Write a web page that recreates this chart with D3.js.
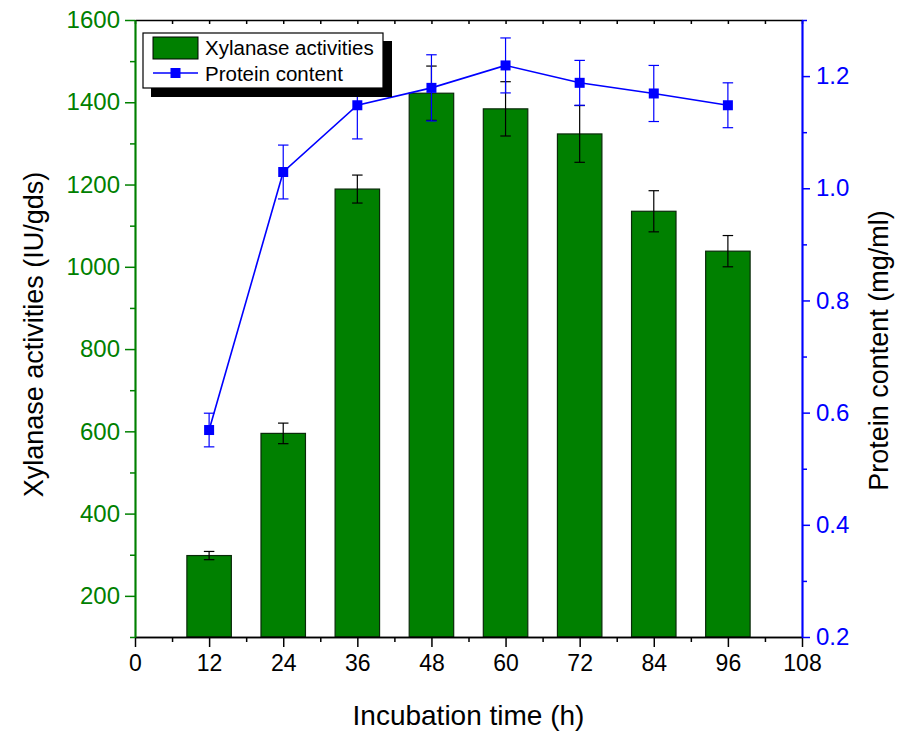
<!DOCTYPE html>
<html>
<head>
<meta charset="utf-8">
<script src="https://cdn.jsdelivr.net/npm/d3@7"></script>
<style>
  html, body { margin: 0; padding: 0; background: #fff; }
  svg { display: block; font-family: "Liberation Sans", Arial, sans-serif; }
</style>
</head>
<body>
<svg id="chart" width="900" height="731"></svg>
<script>
// Incubation time (h)
const hours = [12, 24, 36, 48, 60, 72, 84, 96];
// Xylanase activities (IU/gds) and their standard deviations
const xylanase = [298, 595, 1189, 1422, 1384, 1323, 1135, 1038];
const xylanaseErr = [10, 25, 34, 66, 66, 69, 50, 38];
// Protein content (mg/ml) and standard deviations
const protein = [0.569, 1.029, 1.148, 1.179, 1.219, 1.188, 1.169, 1.148];
const proteinErr = [0.03, 0.048, 0.06, 0.059, 0.049, 0.04, 0.05, 0.04];

const xTicks = [0, 12, 24, 36, 48, 60, 72, 84, 96, 108];
const xMinor = [6, 18, 30, 42, 54, 66, 78, 90, 102];
const leftTicks = [200, 400, 600, 800, 1000, 1200, 1400, 1600];
const leftMinor = [100, 300, 500, 700, 900, 1100, 1300, 1500];
const rightTicks = [0.2, 0.4, 0.6, 0.8, 1.0, 1.2];
const rightMinor = [0.3, 0.5, 0.7, 0.9, 1.1, 1.3];

const GREEN = "#008000", BLUE = "#0000ff";
const svg = d3.select("#chart");
const L = 135, R = 802, T = 20, B = 637;

const x = d3.scaleLinear().domain([0, 108]).range([L, R]);
const yL = d3.scaleLinear().domain([100, 1600]).range([B, T]);
const yR = d3.scaleLinear().domain([0.2, 1.3]).range([B, T]);
const barW = x(7.2) - x(0);

// bars
svg.append("g").selectAll("rect").data(hours).join("rect")
  .attr("x", (d) => x(d) - barW / 2)
  .attr("y", (d, i) => yL(xylanase[i]))
  .attr("width", barW)
  .attr("height", (d, i) => B - yL(xylanase[i]))
  .attr("fill", GREEN)
  .attr("stroke", "#0a2a0a")
  .attr("stroke-width", 1.2);

// error bars on the bars
const capW = 10.5;
const eb = svg.append("g").attr("stroke", "#000").attr("stroke-width", 1.2);
hours.forEach((h, i) => {
  const y1 = yL(xylanase[i] + xylanaseErr[i]), y2 = yL(xylanase[i] - xylanaseErr[i]);
  eb.append("line").attr("x1", x(h)).attr("x2", x(h)).attr("y1", y1).attr("y2", y2);
  eb.append("line").attr("x1", x(h) - capW / 2).attr("x2", x(h) + capW / 2).attr("y1", y1).attr("y2", y1);
  eb.append("line").attr("x1", x(h) - capW / 2).attr("x2", x(h) + capW / 2).attr("y1", y2).attr("y2", y2);
});

// protein line
svg.append("path")
  .datum(hours.map((h, i) => [h, protein[i]]))
  .attr("fill", "none").attr("stroke", BLUE).attr("stroke-width", 1.6)
  .attr("d", d3.line().x((d) => x(d[0])).y((d) => yR(d[1])));

const pe = svg.append("g").attr("stroke", BLUE).attr("stroke-width", 1.2);
hours.forEach((h, i) => {
  const y1 = yR(protein[i] + proteinErr[i]), y2 = yR(protein[i] - proteinErr[i]);
  pe.append("line").attr("x1", x(h)).attr("x2", x(h)).attr("y1", y1).attr("y2", y2);
  pe.append("line").attr("x1", x(h) - capW / 2).attr("x2", x(h) + capW / 2).attr("y1", y1).attr("y2", y1);
  pe.append("line").attr("x1", x(h) - capW / 2).attr("x2", x(h) + capW / 2).attr("y1", y2).attr("y2", y2);
});

const mk = 10;
svg.append("g").selectAll("rect").data(hours).join("rect")
  .attr("x", (d) => x(d) - mk / 2)
  .attr("y", (d, i) => yR(protein[i]) - mk / 2)
  .attr("width", mk).attr("height", mk)
  .attr("fill", BLUE);

// axes
function styleAxis(g, color, fs) {
  g.select(".domain").attr("stroke", color).attr("stroke-width", 1.7);
  g.selectAll(".tick line").attr("stroke", color).attr("stroke-width", 1.5);
  g.selectAll(".tick text").attr("fill", color).attr("font-size", fs)
    .attr("font-family", "Liberation Sans, Arial, sans-serif");
}

// top frame with small inward ticks
const gTop = svg.append("g").attr("transform", `translate(0,${T})`)
  .call(d3.axisTop(x).tickValues(xTicks.concat(xMinor)).tickSize(-4).tickSizeOuter(0).tickFormat(""));
styleAxis(gTop, "#000", 0);

// bottom axis
const gBm = svg.append("g").attr("transform", `translate(0,${B})`)
  .call(d3.axisBottom(x).tickValues(xMinor).tickSize(5).tickSizeOuter(0).tickFormat(""));
styleAxis(gBm, "#000", 0);
const gB = svg.append("g").attr("transform", `translate(0,${B})`)
  .call(d3.axisBottom(x).tickValues(xTicks).tickSize(10).tickSizeOuter(0).tickPadding(8).tickFormat(d3.format("d")));
styleAxis(gB, "#000", 23);

// left axis
const gLm = svg.append("g").attr("transform", `translate(${L},0)`)
  .call(d3.axisLeft(yL).tickValues(leftMinor).tickSize(5).tickSizeOuter(0).tickFormat(""));
styleAxis(gLm, GREEN, 0);
const gL = svg.append("g").attr("transform", `translate(${L},0)`)
  .call(d3.axisLeft(yL).tickValues(leftTicks).tickSize(10).tickSizeOuter(0).tickPadding(5).tickFormat(d3.format("d")));
styleAxis(gL, GREEN, 24);

// right axis
const gRm = svg.append("g").attr("transform", `translate(${R},0)`)
  .call(d3.axisRight(yR).tickValues(rightMinor).tickSize(5).tickSizeOuter(0).tickFormat(""));
styleAxis(gRm, BLUE, 0);
const gR = svg.append("g").attr("transform", `translate(${R},0)`)
  .call(d3.axisRight(yR).tickValues(rightTicks).tickSize(8).tickSizeOuter(0).tickPadding(6).tickFormat(d3.format(".1f")));
styleAxis(gR, BLUE, 24);

// axis titles
svg.append("text").attr("x", (L + R) / 2).attr("y", 725).attr("text-anchor", "middle")
  .attr("font-size", 28).attr("fill", "#000").text("Incubation time (h)");
svg.append("text").attr("transform", `translate(43,${(T + B) / 2 + 6}) rotate(-90)`)
  .attr("text-anchor", "middle").attr("font-size", 27).attr("fill", "#000")
  .text("Xylanase activities (IU/gds)");
svg.append("text").attr("transform", `translate(888,${(T + B) / 2 + 22}) rotate(-90)`)
  .attr("text-anchor", "middle").attr("font-size", 27).attr("fill", "#000")
  .text("Protein content (mg/ml)");

// legend
const lg = svg.append("g");
lg.append("rect").attr("x", 151).attr("y", 41).attr("width", 241).attr("height", 56).attr("fill", "#000");
lg.append("rect").attr("x", 143).attr("y", 33).attr("width", 240).attr("height", 55)
  .attr("fill", "#fff").attr("stroke", "#000").attr("stroke-width", 1.2);
lg.append("rect").attr("x", 153).attr("y", 37).attr("width", 45).attr("height", 22)
  .attr("fill", GREEN).attr("stroke", "#000").attr("stroke-width", 1);
lg.append("line").attr("x1", 153).attr("x2", 198).attr("y1", 73).attr("y2", 73)
  .attr("stroke", BLUE).attr("stroke-width", 1.6);
lg.append("rect").attr("x", 175.5 - mk / 2).attr("y", 73 - mk / 2).attr("width", mk).attr("height", mk).attr("fill", BLUE);
lg.append("text").attr("x", 205).attr("y", 55).attr("font-size", 20.5).attr("fill", "#000").text("Xylanase activities");
lg.append("text").attr("x", 205).attr("y", 81).attr("font-size", 20.5).attr("fill", "#000").text("Protein content");
</script>
</body>
</html>
